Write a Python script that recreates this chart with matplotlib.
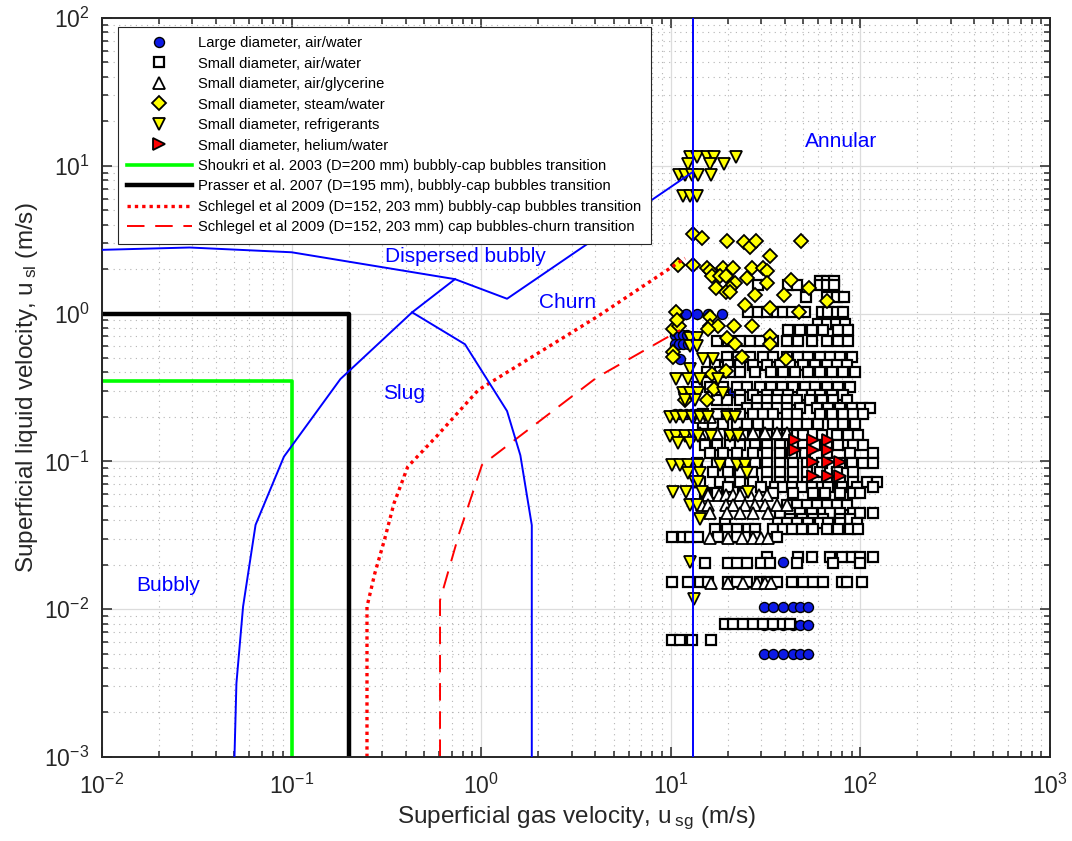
"""
Flow pattern map with literature transition boundaries and data points.
"""

import matplotlib
matplotlib.use("Agg")
import matplotlib.pyplot as plt
from matplotlib.ticker import LogLocator, NullFormatter

plt.rcParams.update({
    "font.family": ["Liberation Sans", "DejaVu Sans"],
    "mathtext.fontset": "custom",
    "mathtext.rm": "Liberation Sans",
    "mathtext.it": "Liberation Sans:italic",
    "mathtext.default": "regular",
    "axes.unicode_minus": False,
})

INK = "#262626"

# regime boundaries (blue)
bubbly_slug_x = [0.050, 0.0512, 0.0555, 0.0646, 0.0912, 0.181, 0.4325, 0.728]
bubbly_slug_y = [0.001, 0.00315, 0.0104, 0.0372, 0.1077, 0.3606, 1.02, 1.71]
dispersed_x = [0.01, 0.029, 0.1, 0.728, 1.37, 13.1]
dispersed_y = [2.7, 2.8, 2.6, 1.71, 1.26, 9.1]
slug_churn_x = [0.4325, 0.822, 1.37, 1.61, 1.85, 1.85]
slug_churn_y = [1.02, 0.62, 0.219, 0.110, 0.037, 0.001]
annular_x = 13.1

# literature transitions
shoukri_x = [0.01, 0.1, 0.1]
shoukri_y = [0.35, 0.35, 0.001]
prasser_x = [0.01, 0.2, 0.2]
prasser_y = [1.0, 1.0, 0.001]
schlegel_bc_x = [0.25, 0.25, 0.275, 0.309, 0.347, 0.41, 0.58, 0.966, 4.08, 11.9]
schlegel_bc_y = [0.001, 0.0104, 0.0175, 0.0294, 0.052, 0.092, 0.147, 0.304, 0.95, 2.37]
schlegel_cc_x = [0.607, 0.607, 0.766, 1.01, 4.08, 11.2]
schlegel_cc_y = [0.001, 0.0115, 0.0326, 0.0946, 0.37, 0.774]

# large diameter, air/water
large_x = [10.9, 12.1, 13.7, 15.8, 18.6,
           10.5, 11.0, 11.6, 12.2, 10.5, 11.0, 11.6, 12.3, 11.2, 11.6, 21.3,
           10.5, 11.2, 12.0, 12.8, 13.6, 39.0,
           31.0, 34.5, 39.0, 44.0, 48.0, 53.0,
           31.0, 34.5, 39.0, 44.0, 48.0, 53.0,
           31.0, 34.5, 39.0, 44.0, 48.0, 53.0]
large_y = [1.0, 1.0, 1.0, 1.0, 1.0,
           0.72, 0.72, 0.72, 0.72, 0.62, 0.62, 0.62, 0.62, 0.49, 0.30, 0.295,
           0.21, 0.21, 0.21, 0.21, 0.21, 0.0207,
           0.0104, 0.0104, 0.0104, 0.0104, 0.0104, 0.0104,
           0.0078, 0.0078, 0.0078, 0.0078, 0.0078, 0.0078,
           0.0050, 0.0050, 0.0050, 0.0050, 0.0050, 0.0050]

# small diameter, air/water: one list of gas velocities per liquid velocity
aw_levels = [1.66, 1.55, 1.30, 1.02, 0.85, 0.78, 0.65, 0.51, 0.45, 0.40,
             0.32, 0.28, 0.26, 0.23, 0.21, 0.18, 0.15, 0.13, 0.114, 0.097,
             0.085, 0.073, 0.067, 0.061, 0.0507, 0.045, 0.041, 0.038, 0.035,
             0.031, 0.0226, 0.0204, 0.0153, 0.0079, 0.0062]
aw_gas = [
    [61.5, 67.0, 72.5],
    [29.0, 41.5, 46.5, 61.5, 67.0, 72.5],
    [51.7, 66.4, 75.0, 82.0],
    [25.6, 29.0, 32.0, 36.2, 39.2, 43.4, 51.0, 62.5, 67.7, 75.0, 81.3],
    [60.0, 66.4, 74.0, 83.0],
    [41.6, 48.0, 55.3, 63.8, 76.5, 86.3],
    [17.5, 20.1, 23.2, 26.2, 29.5, 34.7, 40.8, 47.0, 55.3, 66.4, 76.5, 86.3],
    [19.7, 22.7, 26.2, 30.8, 34.7, 40.8, 47.0, 53.1, 61.2, 69.1, 78.0, 90.0],
    [17.1, 20.1, 23.2, 27.2, 32.0, 37.7, 42.5, 50.0, 57.6, 66.4, 75.0, 84.6],
    [15.5, 18.2, 20.5, 23.2, 27.8, 34.0, 39.2, 45.2, 53.1, 61.2, 70.5, 81.3, 93.7],
    [13.7, 16.1, 18.9, 22.3, 25.1, 29.5, 34.0, 38.4, 44.3, 51.0, 57.6, 66.4, 76.5, 88.1],
    [23.2, 27.2, 32.0, 36.9, 41.6, 49.0, 55.3, 61.2, 70.5, 81.3],
    [17.5, 19.7, 23.2, 28.4, 32.0, 36.2, 40.8, 46.1, 54.2, 62.5, 72.0, 84.6],
    [25.1, 28.4, 32.0, 36.2, 40.8, 48.0, 58.8, 67.7, 78.0, 90.0, 101.5, 112.3],
    [14.8, 17.5, 19.7, 23.2, 27.2, 30.8, 34.7, 40.8, 46.1, 61.2, 70.5, 81.3, 91.8, 103.6],
    [14.8, 16.8, 18.9, 22.3, 25.1, 28.9, 32.7, 36.9, 40.8, 46.1, 52.1, 60.0, 72.0, 81.3, 93.7],
    [14.8, 16.8, 20.5, 24.1, 27.8, 32.0, 37.7, 40.8, 46.1, 50.0, 62.5, 75.0, 86.3, 97.5],
    [15.1, 17.5, 20.5, 23.2, 27.8, 32.0, 37.7, 44.3, 50.0, 57.6, 66.4, 76.5, 91.8, 103.6],
    [16.1, 18.9, 22.3, 27.2, 32.0, 37.7, 43.4, 51.0, 66.4, 88.1, 117.0],
    [13.7, 17.5, 20.5, 24.1, 27.8, 32.0, 37.7, 44.3, 52.1, 62.5, 78.0, 90.0, 103.6, 117.0],
    [16.8, 20.1, 23.2, 26.7, 32.0, 37.7, 44.3, 52.1, 61.2, 75.0, 91.8],
    [14.3, 18.2, 20.5, 23.2, 27.2, 32.0, 37.7, 44.3, 52.1, 66.4, 78.0, 91.8, 107.9, 121.8],
    [20.1, 30.1, 35.5, 39.2, 43.4, 49.0, 55.3, 62.5, 67.7, 79.6, 95.6, 117.0],
    [15.1, 17.5, 24.1, 34.7, 44.3, 56.5, 65.1, 78.0, 91.8, 99.5],
    [40.8, 46.1, 52.1, 58.8, 66.4, 75.0, 84.6],
    [37.7, 42.5, 48.0, 55.3, 63.8, 69.1, 78.0, 91.8, 99.5, 117.0],
    [42.5, 49.0, 56.5, 63.8, 78.0, 88.1],
    [19.3, 36.9, 40.8, 46.1, 53.1, 61.2, 67.7, 78.0, 95.6],
    [17.1, 19.7, 22.3, 25.6, 27.8, 34.7, 39.2, 43.4, 49.0, 56.5, 66.4, 76.5, 88.1, 97.5],
    [10.1, 11.6, 12.6, 14.0, 17.8, 20.1, 22.3, 25.6, 27.8, 36.2],
    [32.0, 47.0, 55.3, 69.1, 79.6, 90.0, 99.5, 117.0],
    [15.1, 20.1, 22.3, 25.1, 30.1, 33.4, 46.1, 72.0, 99.5],
    [10.2, 12.4, 14.3, 15.8, 20.1, 22.3, 25.1, 29.5, 32.0, 36.2, 43.4, 50.0,
     56.5, 63.8, 79.6, 84.6, 101.5],
    [19.3, 21.4, 24.1, 27.2, 30.8, 34.7, 39.2, 42.5],
    [10.1, 11.2, 12.9, 16.3],
]

# small diameter, air/glycerine
gly_levels = [0.20, 0.155, 0.0593, 0.0507, 0.0448, 0.0302, 0.015]
gly_gas = [
    [14.3, 16.1],
    [14.3, 17.5, 23.2, 27.2, 31.4, 36.2, 40.8],
    [15.8, 18.0, 19.5, 21.4, 23.2, 26.2, 29.2, 32.0],
    [14.6, 15.8, 19.5, 21.4, 24.6, 27.8, 31.4, 36.2, 40.8],
    [16.1, 19.7, 23.2, 27.2, 32.7],
    [16.1, 20.1, 23.7, 27.2, 30.1, 32.7],
    [16.4, 20.1, 24.1, 28.4, 31.4, 34.0],
]

# small diameter, steam/water
steam_x = [13.1, 14.6, 19.8, 24.3, 26.2, 28.2, 48.6, 33.4, 10.9, 13.1, 15.6,
           18.9, 21.4, 26.7, 30.8, 16.1, 32.0, 16.6, 18.2, 19.5, 25.1, 21.8,
           32.0, 17.3, 20.5, 19.5, 20.5, 42.9, 53.7, 27.8, 39.5, 66.9, 24.6,
           33.4, 10.7, 47.6,
           10.3, 16.1, 11.0, 16.1, 17.7, 21.5, 26.7, 15.8, 33.4, 19.7, 21.8,
           33.4, 10.3, 23.7, 40.4, 19.5, 16.6, 16.9, 11.9, 15.5, 10.3, 10.8]
steam_y = [3.44, 3.25, 3.11, 3.05, 2.84, 3.11, 3.11, 2.45, 2.13, 2.13, 2.05,
           2.02, 2.02, 2.02, 2.02, 1.94, 1.94, 1.79, 1.79, 1.79, 1.73, 1.60,
           1.60, 1.49, 1.49, 1.41, 1.41, 1.70, 1.49, 1.33, 1.33, 1.22, 1.14,
           1.09, 1.03, 1.03,
           0.79, 0.95, 0.83, 0.83, 0.83, 0.83, 0.83, 0.79, 0.70, 0.68, 0.62,
           0.62, 0.55, 0.51, 0.49, 0.41, 0.39, 0.31, 0.26, 0.26, 0.51, 0.90]

# small diameter, refrigerants
ref_levels = [11.5, 10.3, 8.7, 6.2, 0.68, 0.60, 0.49, 0.42, 0.36, 0.29, 0.26,
              0.20, 0.148, 0.133, 0.095, 0.083, 0.073, 0.062, 0.0507, 0.041,
              0.021, 0.0118]
ref_gas = [
    [12.6, 13.7, 15.5, 16.9, 22.1],
    [12.4, 16.1, 19.2],
    [11.0, 11.9, 12.9, 14.0, 16.4],
    [11.6, 12.6, 13.7],
    [12.6, 13.7],
    [12.6, 13.7],
    [14.8, 16.8],
    [12.6],
    [10.7, 12.4, 14.3, 17.8],
    [11.6, 12.6, 14.0, 18.9],
    [11.9, 13.4],
    [9.9, 10.7, 11.6, 12.9, 14.3, 15.8, 19.7, 21.8],
    [9.9, 10.7, 11.9, 13.2, 14.0, 16.4, 20.5, 22.7],
    [10.9, 12.6],
    [10.1, 11.2, 12.4, 14.0, 18.2, 22.3, 24.6],
    [12.4, 14.3, 25.1],
    [13.4, 14.0],
    [10.3, 12.1, 14.6, 25.6],
    [12.6, 13.7],
    [14.2],
    [12.6],
    [13.3],
]

# small diameter, helium/water
helium_x = [45.2, 56.0, 67.7, 45.2, 56.0, 67.7, 56.0, 67.7, 78.0, 56.0, 67.7, 78.0]
helium_y = [0.140, 0.140, 0.140, 0.119, 0.119, 0.119,
            0.0995, 0.0995, 0.0995, 0.0796, 0.0796, 0.0796]

regime_labels = ["Annular", "Dispersed bubbly", "Churn", "Slug", "Bubbly"]
regime_x = [79.0, 0.822, 2.87, 0.392, 0.0224]
regime_y = [14.5, 2.42, 1.18, 0.29, 0.0144]


def flatten(levels, rows):
    xs, ys = [], []
    for level, row in zip(levels, rows):
        xs.extend(row)
        ys.extend([level] * len(row))
    return xs, ys


fig = plt.figure(figsize=(10.72, 8.41), dpi=100)
ax = fig.add_axes([0.0951, 0.0999, 0.8843, 0.8787])
ax.set_xscale("log")
ax.set_yscale("log")

marker_common = dict(linestyle="none", markeredgecolor="black")
ax.plot(large_x, large_y, marker="o", ms=7.2, mfc=(0.05, 0.1, 0.9), mew=1.0,
        label="Large diameter, air/water", **marker_common)
aw_x, aw_y = flatten(aw_levels, aw_gas)
ax.plot(aw_x, aw_y, marker="s", ms=7.2, mfc="white", mew=1.6,
        label="Small diameter, air/water", **marker_common)
gl_x, gl_y = flatten(gly_levels, gly_gas)
ax.plot(gl_x, gl_y, marker="^", ms=8.5, mfc="white", mew=1.3,
        label="Small diameter, air/glycerine", **marker_common)
ax.plot(steam_x, steam_y, marker="D", ms=6.8, mfc="yellow", mew=1.3,
        label="Small diameter, steam/water", **marker_common)
rf_x, rf_y = flatten(ref_levels, ref_gas)
ax.plot(rf_x, rf_y, marker="v", ms=8.8, mfc="yellow", mew=1.3,
        label="Small diameter, refrigerants", **marker_common)
ax.plot(helium_x, helium_y, marker=">", ms=8.2, mfc="red", mew=1.3,
        label="Small diameter, helium/water", **marker_common)

ax.plot(shoukri_x, shoukri_y, color=(0, 1, 0), lw=2.6,
        label="Shoukri et al. 2003 (D=200 mm) bubbly-cap bubbles transition")
ax.plot(prasser_x, prasser_y, color="black", lw=3.2,
        label="Prasser et al. 2007 (D=195 mm), bubbly-cap bubbles transition")
ax.plot(schlegel_bc_x, schlegel_bc_y, color="red", lw=2.4, linestyle=(0, (1, 1.2)),
        label="Schlegel et al 2009 (D=152, 203 mm) bubbly-cap bubbles transition")
ax.plot(schlegel_cc_x, schlegel_cc_y, color="red", lw=1.4, linestyle=(0, (9, 5.5)),
        label="Schlegel et al 2009 (D=152, 203 mm) cap bubbles-churn transition")

blue = (0, 0, 1)
for bx, by in [(bubbly_slug_x, bubbly_slug_y), (dispersed_x, dispersed_y),
               (slug_churn_x, slug_churn_y)]:
    ax.plot(bx, by, color=blue, lw=1.4, zorder=4)
ax.axvline(annular_x, color=blue, lw=1.4, zorder=4)

for text, tx, ty in zip(regime_labels, regime_x, regime_y):
    ax.text(tx, ty, text, color=blue, fontsize=15, ha="center", va="center")

ax.set_xlim(1e-2, 1e3)
ax.set_ylim(1e-3, 1e2)

for axis in (ax.xaxis, ax.yaxis):
    axis.set_major_locator(LogLocator(base=10, numticks=10))
    axis.set_minor_locator(LogLocator(base=10, subs=range(2, 10), numticks=20))
    axis.set_minor_formatter(NullFormatter())

ax.grid(True, which="major", color="#dcdcdc", lw=0.9, linestyle="-")
ax.grid(True, which="minor", color="#b4b4b4", lw=0.8, linestyle=(0, (1, 4)))
ax.set_axisbelow(True)

ax.tick_params(which="both", direction="in", top=True, right=True,
               colors=INK, width=1.1)
ax.tick_params(which="major", length=7, labelsize=16.5, pad=9)
ax.tick_params(axis="x", which="major", pad=12)
ax.tick_params(which="minor", length=4)
for spine in ax.spines.values():
    spine.set_color(INK)
    spine.set_linewidth(1.4)

ax.set_xlabel(r"Superficial gas velocity, u$_{\;\mathregular{sg}}$ (m/s)",
              fontsize=17.5, color=INK, labelpad=4)
ax.set_ylabel(r"Superficial liquid velocity, u$_{\;\mathregular{sl}}$ (m/s)",
              fontsize=17.5, color=INK, labelpad=3)

leg = ax.legend(loc="upper left", bbox_to_anchor=(0.0169, 0.9878),
                borderaxespad=0, fontsize=10.6, numpoints=1, handlelength=4.4,
                handletextpad=0.45, labelspacing=0.44, borderpad=0.62,
                fancybox=False, framealpha=1, edgecolor=INK)
leg.get_frame().set_linewidth(0.8)

fig.savefig("out.png", dpi=100)
